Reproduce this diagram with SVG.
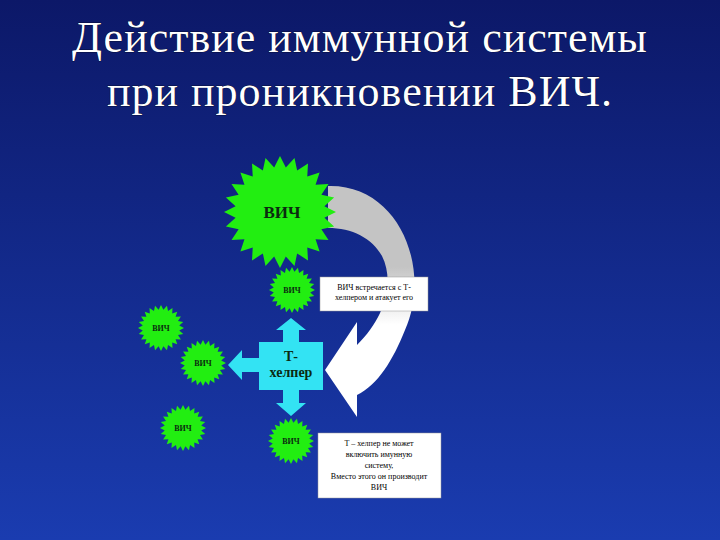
<svg xmlns="http://www.w3.org/2000/svg" width="720" height="540" viewBox="0 0 720 540">
<defs>
<linearGradient id="bg" x1="0" y1="0" x2="0" y2="1"><stop offset="0" stop-color="#0c1868"/><stop offset="1" stop-color="#1a3cb0"/></linearGradient>
<linearGradient id="ar" x1="0" y1="0" x2="0" y2="1"><stop offset="0.35" stop-color="#c4c4c4"/><stop offset="0.6" stop-color="#ffffff"/></linearGradient>
<polygon id="star" points="100,0 79.3,10.4 96.6,25.9 73.9,30.6 86.6,50 63.5,48.7 70.7,70.7 48.7,63.5 50,86.6 30.6,73.9 25.9,96.6 10.4,79.3 0,100 -10.4,79.3 -25.9,96.6 -30.6,73.9 -50,86.6 -48.7,63.5 -70.7,70.7 -63.5,48.7 -86.6,50 -73.9,30.6 -96.6,25.9 -79.3,10.4 -100,0 -79.3,-10.4 -96.6,-25.9 -73.9,-30.6 -86.6,-50 -63.5,-48.7 -70.7,-70.7 -48.7,-63.5 -50,-86.6 -30.6,-73.9 -25.9,-96.6 -10.4,-79.3 0,-100 10.4,-79.3 25.9,-96.6 30.6,-73.9 50,-86.6 48.7,-63.5 70.7,-70.7 63.5,-48.7 86.6,-50 73.9,-30.6 96.6,-25.9 79.3,-10.4" fill="#22ee11"/>
</defs>
<style>
.t{font-family:"Liberation Serif",serif;fill:#fff;text-anchor:middle;font-size:44px;letter-spacing:1px;stroke:#000;stroke-width:0.6;paint-order:stroke}
.v{font-family:"Liberation Serif",serif;font-weight:bold;fill:#0b2a10;text-anchor:middle}
.n{font-family:"Liberation Serif",serif;font-size:8px;fill:#000;text-anchor:middle}
.box{fill:#fff;stroke:#999;stroke-width:0.5}
</style>
<rect width="720" height="540" fill="url(#bg)"/>
<g id="title">
<text class="t" x="360" y="52">Действие иммунной системы</text>
<text class="t" x="360" y="106">при проникновении ВИЧ.</text>
</g>
<g id="connectors">
<path d="M328,186 C400,184 432,270 405,330 C393,360 378,385 357,395 L357,417 L325,370 L357,322 L357,345 C385,318 395,282 382,256 C372,238 352,228 328,228 Z" fill="url(#ar)"/>
</g>
<g id="big-hiv"><use href="#star" transform="translate(280,212) scale(0.56)"/><text class="v" x="282" y="218" font-size="17">ВИЧ</text></g>
<g id="hiv1"><use href="#star" transform="translate(292,290) scale(0.23)"/><text class="v" x="292" y="293" font-size="8">ВИЧ</text></g>
<g id="hiv2"><use href="#star" transform="translate(161,328) scale(0.23)"/><text class="v" x="161" y="331" font-size="8">ВИЧ</text></g>
<g id="hiv3"><use href="#star" transform="translate(203,363) scale(0.23)"/><text class="v" x="203" y="366" font-size="8">ВИЧ</text></g>
<g id="hiv4"><use href="#star" transform="translate(183,428) scale(0.23)"/><text class="v" x="183" y="431" font-size="8">ВИЧ</text></g>
<g id="hiv5"><use href="#star" transform="translate(291,441) scale(0.23)"/><text class="v" x="291" y="444" font-size="8">ВИЧ</text></g>
<g id="t-helper">
<path d="M259,342 H283 V330 H276 L291,318 L306,330 H299 V342 H323 V390 H299 V403 H306 L291,416 L276,403 H283 V390 H259 V372 H242 V380 L228,365 L242,350 V358 H259 Z" fill="#33e3f3"/>
<text class="v" x="291" y="361" font-size="14">Т-</text>
<text class="v" x="291" y="377" font-size="14">хелпер</text>
</g>
<g id="note1"><rect class="box" x="320" y="277" width="108" height="34"/>
<text class="n" x="374" y="290">ВИЧ встречается с Т-</text><text class="n" x="374" y="300">хелпером и атакует его</text></g>
<g id="note2"><rect class="box" x="318" y="433" width="123" height="65"/>
<text class="n" x="379" y="446">Т – хелпер не может</text><text class="n" x="379" y="457">включить имунную</text><text class="n" x="379" y="468">систему,</text><text class="n" x="379" y="479">Вместо этого он производит</text><text class="n" x="379" y="490">ВИЧ</text></g>
</svg>
